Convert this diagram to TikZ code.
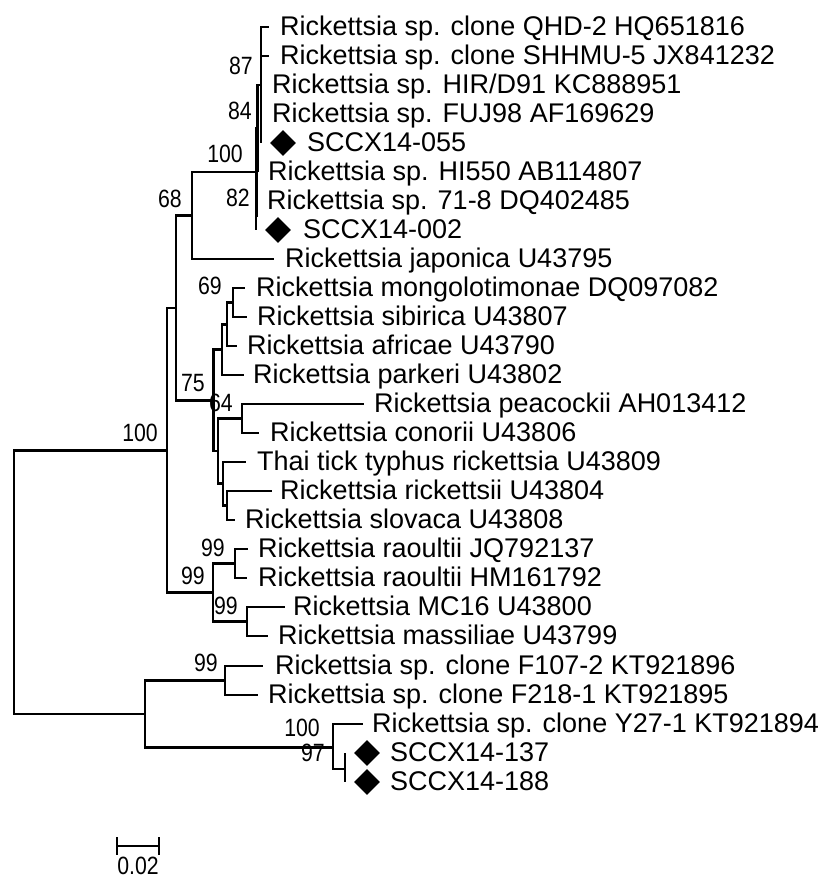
\documentclass[tikz,border=0pt]{standalone}
\usepackage{fontspec}
\setmainfont{Liberation Sans}
\newfontfamily\bootfont[FakeStretch=0.85]{Liberation Sans}
\usetikzlibrary{shapes.geometric,calc}
\begin{document}
\begin{tikzpicture}[x=1pt,y=-1pt,
  br/.style={line width=2.6pt, line join=miter},
  taxon/.style={anchor=base west, inner sep=0pt, font=\fontsize{27}{30}\selectfont},
  boot/.style={anchor=south east, inner sep=0pt, font=\bootfont\fontsize{25}{28}\selectfont},
  diam/.style={diamond, fill=black, inner sep=0pt, minimum width=26pt, minimum height=26pt}]
\useasboundingbox[fill=white] (0,0) rectangle (822,878);
% internal nodes
\coordinate (root) at (14,581);
\coordinate (A) at (167,450.25);
\coordinate (B) at (176,308);
\coordinate (C) at (192,215.5);
\coordinate (D) at (256.5,172);
\coordinate (N84) at (257.5,128.5);
\coordinate (N87) at (261,85);
\coordinate (N82) at (256,215.5);
\coordinate (N75) at (213.5,400.4);
\coordinate (P1) at (222,349.6);
\coordinate (P2) at (227,324.25);
\coordinate (N69) at (233,302.5);
\coordinate (P3) at (218,451.1);
\coordinate (N64) at (242,418.5);
\coordinate (P4) at (223,483.75);
\coordinate (P5) at (227,505.5);
\coordinate (G99) at (213,592.5);
\coordinate (R99) at (235,563.5);
\coordinate (M99) at (247,621.5);
\coordinate (L) at (145,714);
\coordinate (F99) at (225,680.5);
\coordinate (N100) at (333,747.5);
\coordinate (N97) at (345,769);
% leaves
\coordinate (l1) at (269,27);
\coordinate (l2) at (269,56);
\coordinate (l3) at (261,85);
\coordinate (l4) at (261,114);
\coordinate (l5) at (261,143);
\coordinate (l6) at (257.5,172);
\coordinate (l7) at (256,201);
\coordinate (l8) at (256,230);
\coordinate (l9) at (274,259);
\coordinate (l10) at (245,288);
\coordinate (l11) at (247,317);
\coordinate (l12) at (237,346);
\coordinate (l13) at (244,375);
\coordinate (l14) at (364,404);
\coordinate (l15) at (259,433);
\coordinate (l16) at (246,462);
\coordinate (l17) at (272,491);
\coordinate (l18) at (235,520);
\coordinate (l19) at (248,549);
\coordinate (l20) at (247,578);
\coordinate (l21) at (285,607);
\coordinate (l22) at (268,636);
\coordinate (l23) at (263,666);
\coordinate (l24) at (258,695);
\coordinate (l25) at (363,724);
\coordinate (l26) at (345,753);
\coordinate (l27) at (345,782);
% branches
\draw[br] (root) |- (A);
\draw[br] (root) |- (L);
\draw[br] (A) |- (B);
\draw[br] (A) |- (G99);
\draw[br] (B) |- (C);
\draw[br] (B) |- (N75);
\draw[br] (C) |- (D);
\draw[br] (C) |- (l9);
\draw[br] (D) |- (N84);
\draw[br] (D) |- (N82);
\draw[br] (N84) |- (N87);
\draw[br] (N84) |- (l6);
\draw[br] (N87) |- (l1);
\draw[br] (N87) |- (l2);
\draw[br] (N87) |- (l3);
\draw[br] (N87) |- (l4);
\draw[br] (N87) |- (l5);
\draw[br] (N82) |- (l7);
\draw[br] (N82) |- (l8);
\draw[br] (N75) |- (P1);
\draw[br] (N75) |- (P3);
\draw[br] (P1) |- (P2);
\draw[br] (P1) |- (l13);
\draw[br] (P2) |- (N69);
\draw[br] (P2) |- (l12);
\draw[br] (N69) |- (l10);
\draw[br] (N69) |- (l11);
\draw[br] (P3) |- (N64);
\draw[br] (P3) |- (P4);
\draw[br] (N64) |- (l14);
\draw[br] (N64) |- (l15);
\draw[br] (P4) |- (l16);
\draw[br] (P4) |- (P5);
\draw[br] (P5) |- (l17);
\draw[br] (P5) |- (l18);
\draw[br] (G99) |- (R99);
\draw[br] (G99) |- (M99);
\draw[br] (R99) |- (l19);
\draw[br] (R99) |- (l20);
\draw[br] (M99) |- (l21);
\draw[br] (M99) |- (l22);
\draw[br] (L) |- (F99);
\draw[br] (L) |- (N100);
\draw[br] (F99) |- (l23);
\draw[br] (F99) |- (l24);
\draw[br] (N100) |- (l25);
\draw[br] (N100) |- (N97);
\draw[br] (N97) |- (l26);
\draw[br] (N97) |- (l27);
% taxon labels
\node[taxon] (t1) at (280,35) {Rickettsia sp. clone QHD-2 HQ651816};
\node[taxon] (t2) at (280,64) {Rickettsia sp. clone SHHMU-5 JX841232};
\node[taxon] (t3) at (272,93) {Rickettsia sp. HIR/D91 KC888951};
\node[taxon] (t4) at (272,122) {Rickettsia sp. FUJ98 AF169629};
\node[diam] (d5) at (283,143) {};
\node[taxon] (t5) at (307,151) {SCCX14-055};
\node[taxon] (t6) at (268,180) {Rickettsia sp. HI550 AB114807};
\node[taxon] (t7) at (267,209) {Rickettsia sp. 71-8 DQ402485};
\node[diam] (d8) at (278,230) {};
\node[taxon] (t8) at (303,238) {SCCX14-002};
\node[taxon] (t9) at (285,267) {Rickettsia japonica U43795};
\node[taxon] (t10) at (256,296) {Rickettsia mongolotimonae DQ097082};
\node[taxon] (t11) at (257,325) {Rickettsia sibirica U43807};
\node[taxon] (t12) at (247,354) {Rickettsia africae U43790};
\node[taxon] (t13) at (253,383) {Rickettsia parkeri U43802};
\node[taxon] (t14) at (374,412) {Rickettsia peacockii AH013412};
\node[taxon] (t15) at (270,441) {Rickettsia conorii U43806};
\node[taxon] (t16) at (257,470) {Thai tick typhus rickettsia U43809};
\node[taxon] (t17) at (280,499) {Rickettsia rickettsii U43804};
\node[taxon] (t18) at (245,528) {Rickettsia slovaca U43808};
\node[taxon] (t19) at (258,557) {Rickettsia raoultii JQ792137};
\node[taxon] (t20) at (258,586) {Rickettsia raoultii HM161792};
\node[taxon] (t21) at (293,615) {Rickettsia MC16 U43800};
\node[taxon] (t22) at (278,644) {Rickettsia massiliae U43799};
\node[taxon] (t23) at (275,674) {Rickettsia sp. clone F107-2 KT921896};
\node[taxon] (t24) at (268,703) {Rickettsia sp. clone F218-1 KT921895};
\node[taxon] (t25) at (372,732) {Rickettsia sp. clone Y27-1 KT921894};
\node[diam] (d26) at (367,753) {};
\node[taxon] (t26) at (390,761) {SCCX14-137};
\node[diam] (d27) at (367,782) {};
\node[taxon] (t27) at (390,790) {SCCX14-188};
% bootstrap values
\node[boot] (b87) at (253,75) {87};
\node[boot] (b84) at (252,120) {84};
\node[boot] (bD) at (243,163) {100};
\node[boot] (b82) at (250,207) {82};
\node[boot] (b68) at (182,208) {68};
\node[boot] (b69) at (222,295) {69};
\node[boot] (b75) at (205,392) {75};
\node[boot] (b64) at (233,412) {64};
\node[boot] (bA) at (158,442) {100};
\node[boot] (bR99) at (225,557) {99};
\node[boot] (bG99) at (205,585) {99};
\node[boot] (bM99) at (238,615) {99};
\node[boot] (bF99) at (218,672) {99};
\node[boot] (bN100) at (320,737) {100};
\node[boot] (bN97) at (325,762) {97};
% scale bar
\coordinate (s1) at (117,846);
\coordinate (s2) at (159,846);
\draw[br] (s1) -- (s2);
\draw[br] ($(s1)+(0,-9)$) -- ($(s1)+(0,9)$);
\draw[br] ($(s2)+(0,-9)$) -- ($(s2)+(0,9)$);
\node[anchor=base, inner sep=0pt, font=\bootfont\fontsize{25}{28}\selectfont] (sbl) at (138,874) {0.02};
\end{tikzpicture}
\end{document}
